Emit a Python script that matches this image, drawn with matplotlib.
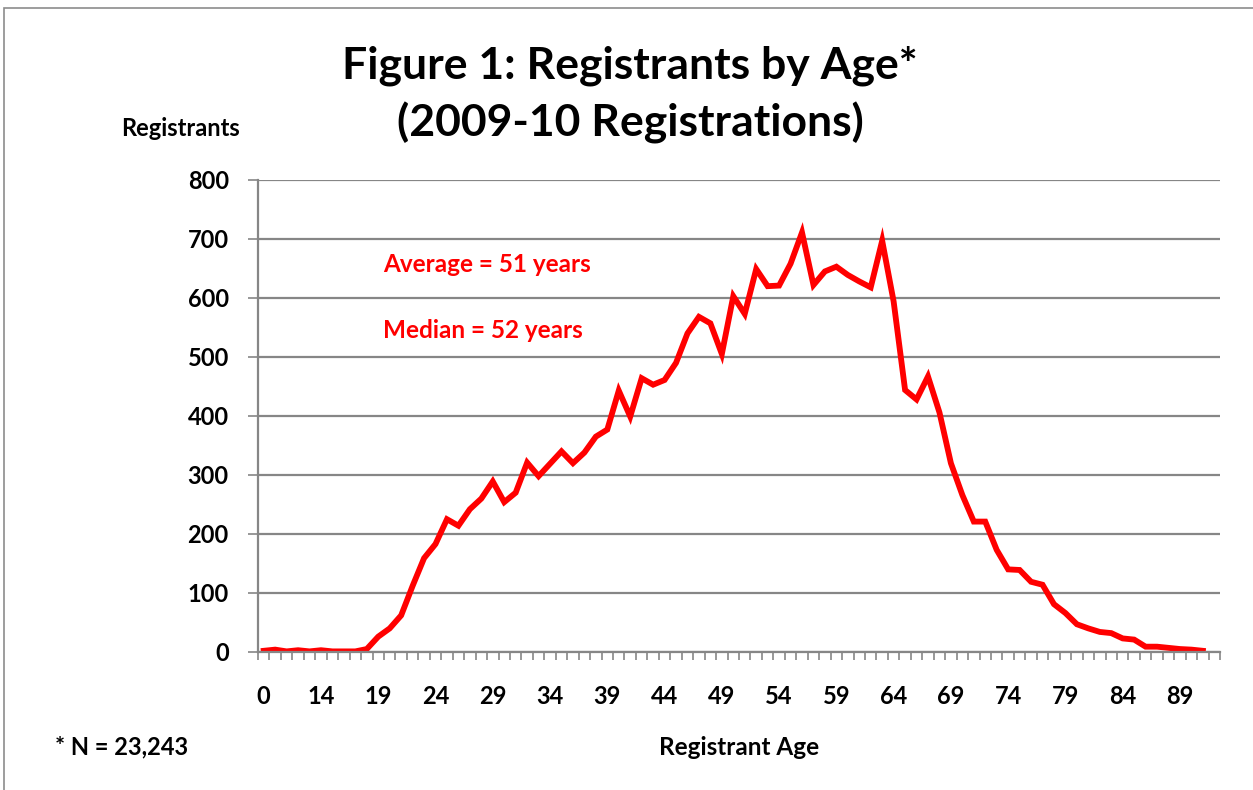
import numpy as np
import matplotlib
matplotlib.use("Agg")
import matplotlib.pyplot as plt
from matplotlib.patches import Rectangle

# categories: first bucket is "0", then ages 10 to 92
ages = [0] + list(range(10, 93))
registrants = [2, 4, 1, 3, 1, 3, 1, 1, 1, 5,
               26, 40, 62, 112, 159, 183, 225, 214, 242, 260,
               289, 254, 270, 321, 298, 319, 340, 320, 338, 365,
               377, 443, 399, 464, 453, 461, 490, 540, 568, 557,
               505, 603, 573, 649, 620, 621, 658, 711, 622, 645,
               653, 639, 628, 618, 697, 594, 444, 428, 467, 406,
               320, 266, 221, 221, 173, 140, 139, 119, 114, 81,
               66, 47, 40, 34, 32, 23, 21, 9, 9, 7,
               5, 4, 2]
yticks = [0, 100, 200, 300, 400, 500, 600, 700, 800]

plt.rcParams['font.family'] = ['Lato', 'DejaVu Sans']
plt.rcParams['font.weight'] = 'bold'

fig = plt.figure(figsize=(12.53, 7.90), dpi=100)
ax = fig.add_axes([0.2059, 0.1747, 0.7678, 0.5975])

# outer chart border (only top and left are visible in the picture)
fig.patches.append(Rectangle((4 / 1253, -0.05), 1.1, 1 - 8 / 790 + 0.05,
                             transform=fig.transFigure, fill=False,
                             edgecolor='#8c8c8c', linewidth=1.2))

x = np.arange(len(registrants))
ax.plot(x, registrants, color='#ff0000', linewidth=4.2, solid_joinstyle='miter')

ax.set_xlim(-0.5, len(ages) - 0.5)
ax.set_ylim(0, 800)
ax.set_yticks(yticks)
ax.yaxis.grid(True, color='#868686', linewidth=1.6)
ax.set_axisbelow(True)

for s in ['top', 'right']:
    ax.spines[s].set_visible(False)
for s in ['left', 'bottom']:
    ax.spines[s].set_color('#868686')
    ax.spines[s].set_linewidth(1.6)

# tick marks between categories, labels every fifth category
ax.set_xticks(np.arange(-0.5, len(ages), 1))
ax.set_xticklabels([])
ax.tick_params(axis='x', which='major', length=6, width=1.2, color='#868686')
ax.set_xticks(np.arange(0, len(ages), 5), minor=True)
ax.set_xticklabels([str(ages[i]) for i in range(0, len(ages), 5)], minor=True)
ax.tick_params(axis='x', which='minor', length=0, pad=24, labelsize=17)
ax.tick_params(axis='y', length=7, width=1.2, color='#868686', pad=14, labelsize=17)

fig.text(0.503, 0.917, 'Figure 1: Registrants by Age*', ha='center', va='center',
         fontsize=32, fontweight='bold')
fig.text(0.503, 0.845, '(2009-10 Registrations)', ha='center', va='center',
         fontsize=32, fontweight='bold')
fig.text(0.144, 0.837, 'Registrants', ha='center', va='center', fontsize=17, fontweight='bold')
fig.text(0.59, 0.054, 'Registrant Age', ha='center', va='center', fontsize=17.5, fontweight='bold')
fig.text(0.044, 0.054, '* N = 23,243', ha='left', va='center', fontsize=17, fontweight='bold')

fig.text(383 / 1253, 1 - 265 / 790, 'Average = 51 years', ha='left', va='center',
         fontsize=17.5, fontweight='bold', color='#ff0000')
fig.text(383 / 1253, 1 - 330 / 790, 'Median = 52 years', ha='left', va='center',
         fontsize=17.5, fontweight='bold', color='#ff0000')

fig.savefig('out.png', dpi=100)
